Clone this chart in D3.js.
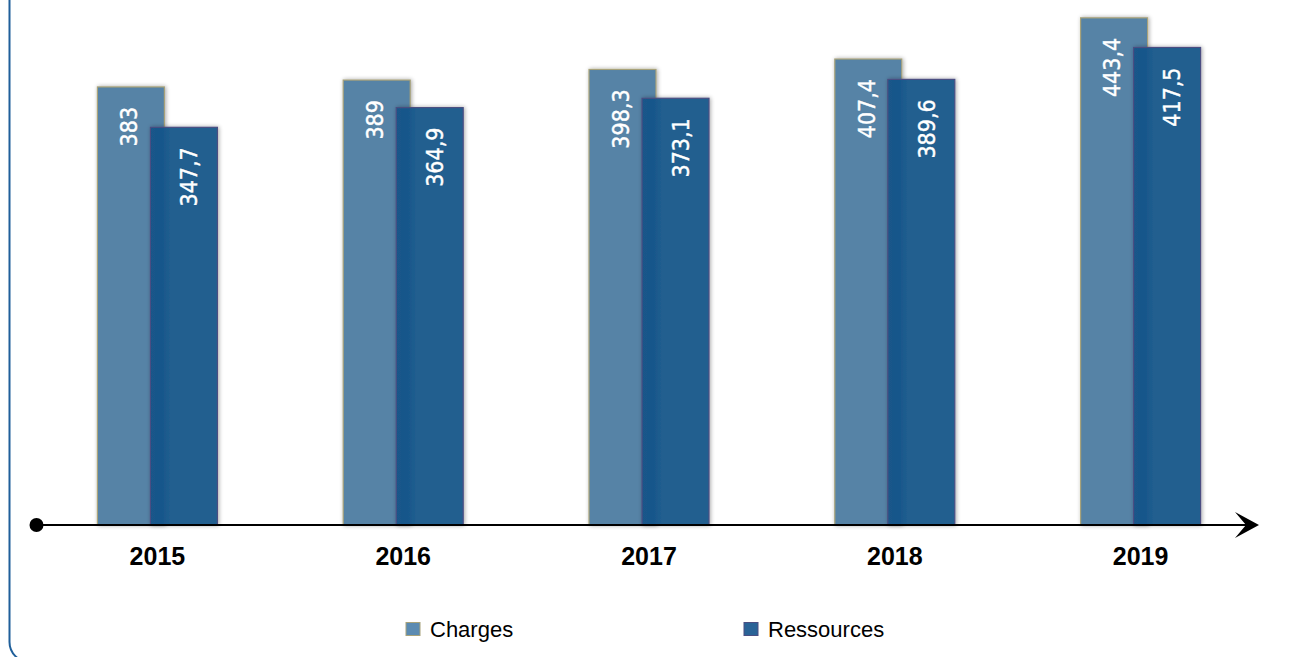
<!DOCTYPE html>
<html>
<head>
<meta charset="utf-8">
<script src="https://cdn.jsdelivr.net/npm/d3@7"></script>
<style>
  html, body { margin: 0; padding: 0; background: #ffffff; }
  svg { display: block; }
</style>
</head>
<body>
<svg id="chart" width="1312" height="657"></svg>
<script>
// Budget per year: charges vs. ressources
const years = ["2015", "2016", "2017", "2018", "2019"];
const charges = [383, 389, 398.3, 407.4, 443.4];
const ressources = [347.7, 364.9, 373.1, 389.6, 417.5];
const seriesNames = ["Charges", "Ressources"];
const valueLabels = {
  Charges: ["383", "389", "398,3", "407,4", "443,4"],
  Ressources: ["347,7", "364,9", "373,1", "389,6", "417,5"]
};

const W = 1312, H = 657;
const baseY = 525;
const svg = d3.select("#chart");

const colors = { Charges: "#5683a6", Ressources: "#215e8f" };
const edge = { Charges: "#a8a27a", Ressources: "#4b4e82" };

const defs = svg.append("defs");
const grad = defs.append("linearGradient").attr("id", "resGrad")
  .attr("x1", "0").attr("x2", "1").attr("y1", "0").attr("y2", "0");
grad.append("stop").attr("offset", "0%").attr("stop-color", "#1a5689");
grad.append("stop").attr("offset", "18%").attr("stop-color", "#18578b");
grad.append("stop").attr("offset", "30%").attr("stop-color", "#215e8f");
grad.append("stop").attr("offset", "100%").attr("stop-color", "#225f8f");

const glow = defs.append("filter").attr("id", "glow")
  .attr("x", "-20%").attr("y", "-5%").attr("width", "140%").attr("height", "110%");
glow.append("feGaussianBlur").attr("in", "SourceAlpha").attr("stdDeviation", 2).attr("result", "b");
glow.append("feOffset").attr("in", "b").attr("dx", 1).attr("dy", 0).attr("result", "o");
glow.append("feComponentTransfer").attr("in", "o").attr("result", "s")
  .append("feFuncA").attr("type", "linear").attr("slope", 0.35);
const merge = glow.append("feMerge");
merge.append("feMergeNode").attr("in", "s");
merge.append("feMergeNode").attr("in", "SourceGraphic");

// frame
svg.append("rect")
  .attr("x", 9.5).attr("y", -40)
  .attr("width", W + 40).attr("height", 662 + 40)
  .attr("rx", 20).attr("ry", 20)
  .attr("fill", "none").attr("stroke", "#1f5f9a").attr("stroke-width", 2);

// scales
const x = d3.scaleBand().domain(years).range([34.5, 1263.5]).padding(0);
const y = d3.scaleLinear().domain([0, 459]).range([baseY, 0]);
const barW = 67;
const offset = d3.scalePoint().domain(seriesNames).range([-60, -7]);
const labelShift = { Charges: -2, Ressources: 5 };

const rows = years.map((yr, i) => ({
  year: yr,
  Charges: charges[i],
  Ressources: ressources[i],
  i
}));

const groups = svg.append("g").selectAll("g")
  .data(rows).join("g")
  .attr("transform", d => `translate(${x(d.year) + x.bandwidth() / 2},0)`);

seriesNames.forEach(s => {
  groups.append("rect")
    .attr("x", offset(s))
    .attr("y", d => y(d[s]))
    .attr("width", barW)
    .attr("height", d => baseY - y(d[s]))
    .attr("fill", s === "Ressources" ? "url(#resGrad)" : colors[s])
    .attr("stroke", edge[s])
    .attr("stroke-width", 1.2)
    .attr("filter", "url(#glow)");
});

seriesNames.forEach(s => {
  groups.append("text")
    .attr("transform", d => `translate(${offset(s) + barW / 2 + labelShift[s]},${y(d[s]) + 20}) rotate(-90)`)
    .attr("text-anchor", "end")
    .attr("dy", "0.36em")
    .attr("fill", "#ffffff")
    .attr("stroke", "#ffffff")
    .attr("stroke-width", 0.4)
    .style("font-family", "'Liberation Sans Narrow', 'DejaVu Sans Condensed', sans-serif")
    .style("font-size", "23px")
    .text(d => valueLabels[s][d.i]);
});

// x axis
const axis = d3.axisBottom(x).tickSize(0).tickPadding(0);
const ax = svg.append("g").attr("transform", `translate(0,${baseY})`).call(axis);
ax.select(".domain").remove();
ax.selectAll("text")
  .attr("y", 40)
  .attr("dy", 0)
  .attr("fill", "#000")
  .style("font-family", "'Liberation Sans', Arial, sans-serif")
  .style("font-size", "25px")
  .style("font-weight", "bold");

svg.append("line")
  .attr("x1", 37).attr("x2", 1250)
  .attr("y1", baseY).attr("y2", baseY)
  .attr("stroke", "#000").attr("stroke-width", 2);
svg.append("circle").attr("cx", 36.5).attr("cy", baseY).attr("r", 7).attr("fill", "#000");
svg.append("path")
  .attr("d", `M1259,${baseY} L1235,${baseY - 13} L1246,${baseY} L1235,${baseY + 13} Z`)
  .attr("fill", "#000");

// legend
const legendPos = { Charges: 406, Ressources: 744 };
const legendFill = { Charges: "#5b8bb2", Ressources: "#2a6397" };
const lg = svg.append("g").selectAll("g").data(seriesNames).join("g")
  .attr("transform", s => `translate(${legendPos[s]},629)`);
lg.append("rect")
  .attr("x", 0).attr("y", -6.5).attr("width", 14).attr("height", 13)
  .attr("fill", s => legendFill[s])
  .attr("stroke", s => edge[s]).attr("stroke-width", 1);
lg.append("text")
  .attr("x", 24).attr("y", 8)
  .attr("fill", "#000")
  .style("font-family", "'Liberation Sans', Arial, sans-serif")
  .style("font-size", "22px")
  .text(s => s);
</script>
</body>
</html>
